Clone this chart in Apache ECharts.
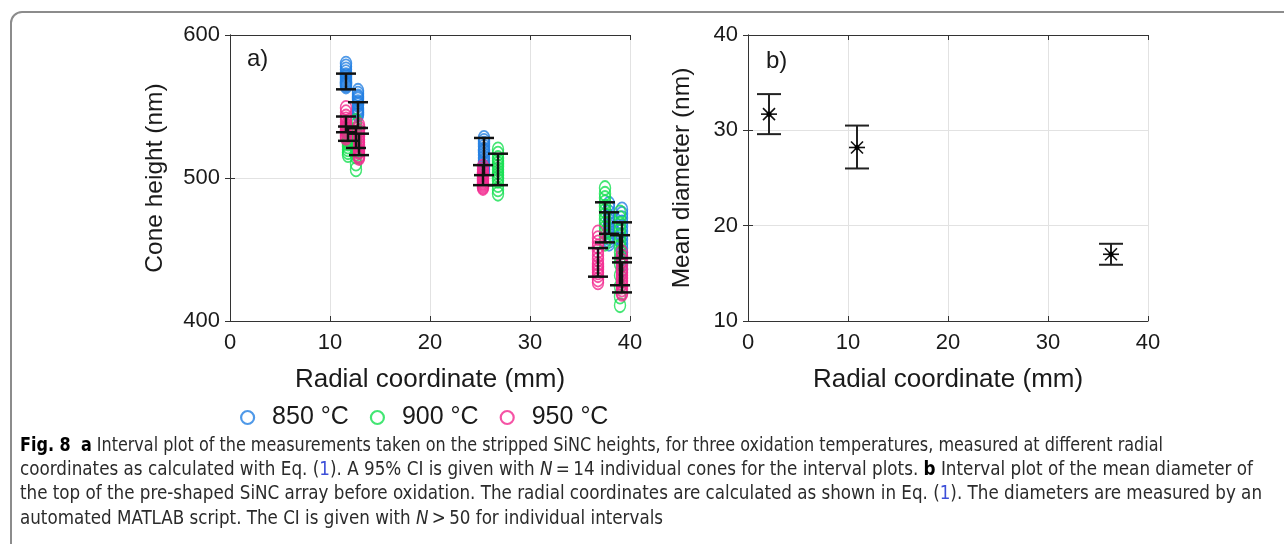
<!DOCTYPE html>
<html>
<head>
<meta charset="utf-8">
<script src="https://cdn.jsdelivr.net/npm/echarts@6/dist/echarts.min.js"></script>
<style>
  html, body { margin: 0; padding: 0; background: #fff; }
  #frame { position: absolute; left: 10px; top: 11px; width: 1300px; height: 600px;
           border: 2px solid #8c8c8c; border-top-left-radius: 12px; box-sizing: border-box; }
  #main { position: absolute; left: 0; top: 0; width: 1284px; height: 544px; }
  .cap { position: absolute; left: 20px; white-space: nowrap; color: #2b2b2b;
         font-family: "Liberation Sans Narrow", "DejaVu Sans Condensed", "Liberation Sans", sans-serif;
         font-size: 20px; line-height: 24px; transform-origin: 0 0; }
  .cap b { color: #000; }
  .cap .ref { color: #3d4fd8; }
</style>
</head>
<body>
<div id="frame"></div>
<div id="main"></div>
<div class="cap" style="top:432px" data-w="1143"><b>Fig. 8</b>&nbsp; <b>a</b> Interval plot of the measurements taken on the stripped SiNC heights, for three oxidation temperatures, measured at different radial</div>
<div class="cap" style="top:456px" data-w="1233">coordinates as calculated with Eq. (<span class="ref">1</span>). A 95% CI is given with <i>N</i>&thinsp;=&thinsp;14 individual cones for the interval plots. <b>b</b> Interval plot of the mean diameter of</div>
<div class="cap" style="top:480px" data-w="1242">the top of the pre-shaped SiNC array before oxidation. The radial coordinates are calculated as shown in Eq. (<span class="ref">1</span>). The diameters are measured by an</div>
<div class="cap" style="top:505px" data-w="643">automated MATLAB script. The CI is given with <i>N</i>&thinsp;&gt;&thinsp;50 for individual intervals</div>
<script>
// a) cone heights, three oxidation temperatures
var tempNames = ['850 °C', '900 °C', '950 °C'];

var x850 = [11.6, 12.8, 25.4, 37.9, 39.2];
var h850 = [
    [580, 578, 576, 574, 572, 571, 570, 569, 568, 567, 566, 565, 564, 566],
    [561, 559, 557, 555, 553, 551, 549, 547, 546, 545, 544, 548, 552, 556],
    [528, 526, 524, 522, 520, 519, 518, 516, 514, 512, 510, 508, 506, 504],
    [482, 479, 476, 473, 470, 468, 466, 464, 462, 460, 458, 456, 454, 472],
    [478, 475, 472, 469, 466, 463, 460, 457, 454, 451, 448, 444, 440, 436]
];
var ci850 = [[562, 573], [535, 553], [502, 528], [461, 476], [444, 469]];

var x900 = [11.8, 12.6, 26.8, 37.5, 39.0];
var h900 = [
    [536, 534, 532, 530, 528, 527, 526, 525, 524, 522, 520, 518, 516, 530],
    [540, 537, 534, 531, 529, 527, 525, 523, 521, 519, 517, 515, 510, 506],
    [520, 517, 514, 512, 510, 508, 506, 504, 502, 500, 498, 495, 492, 489],
    [493, 489, 486, 483, 480, 477, 474, 471, 468, 465, 462, 459, 456, 454],
    [476, 472, 468, 464, 460, 456, 452, 448, 444, 440, 432, 424, 417, 411]
];
var ci900 = [[526, 536], [521, 535], [495, 517], [455, 483], [425, 460]];

var x950 = [11.6, 12.9, 25.3, 36.8, 39.2];
var h950 = [
    [549, 546, 543, 541, 539, 537, 536, 535, 534, 533, 532, 530, 529, 528],
    [537, 535, 533, 531, 529, 527, 525, 523, 521, 519, 518, 516, 515, 514],
    [508, 506, 504, 503, 502, 501, 500, 499, 498, 497, 496, 495, 494, 493],
    [462, 458, 455, 452, 449, 446, 443, 440, 438, 436, 434, 432, 429, 427],
    [448, 445, 442, 439, 436, 434, 432, 430, 428, 426, 424, 422, 420, 419]
];
var ci950 = [[532, 543], [516, 531], [495, 509], [431, 451], [420, 441]];

// b) mean diameter
var xB = [2.1, 10.9, 36.3];
var dMean = [31.7, 28.2, 17.0];
var dLow = [29.6, 26.0, 15.9];
var dHigh = [33.8, 30.5, 18.1];

var colors = ['#2380e2', '#14e050', '#f2288e'];
var font = 'Liberation Sans';
var ink = '#1a1a1a';

window.onload = function () {
    var myChart = echarts.init(document.getElementById('main'));

    function points(xs, hs) {
        var out = [];
        for (var i = 0; i < xs.length; i++) {
            for (var j = 0; j < hs[i].length; j++) out.push([xs[i], hs[i][j]]);
        }
        return out;
    }
    var bars = [];
    [[x850, ci850], [x900, ci900], [x950, ci950]].forEach(function (p) {
        for (var i = 0; i < p[0].length; i++) bars.push([p[0][i], p[1][i][0], p[1][i][1]]);
    });
    var barsB = xB.map(function (x, i) { return [x, dMean[i], dLow[i], dHigh[i]]; });

    function mainX(gi, min, max, interval) {
        return {
            gridIndex: gi, type: 'value', min: min, max: max, interval: interval,
            name: 'Radial coordinate (mm)', nameLocation: 'middle', nameGap: 46,
            nameTextStyle: { fontFamily: font, fontSize: 26, color: ink },
            axisLine: { lineStyle: { color: '#333', width: 1 } },
            axisTick: { inside: true, length: 5, lineStyle: { color: '#333' } },
            axisLabel: { fontFamily: font, fontSize: 22, color: ink, margin: 11 },
            splitLine: { show: true, lineStyle: { color: '#e2e2e2', width: 1 } }
        };
    }
    function mainY(gi, min, max, interval, name, gap) {
        return {
            gridIndex: gi, type: 'value', min: min, max: max, interval: interval,
            name: name, nameLocation: 'middle', nameGap: gap,
            nameTextStyle: { fontFamily: font, fontSize: 24.5, color: ink },
            axisLine: { show: true, lineStyle: { color: '#333', width: 1 } },
            axisTick: { show: true, inside: true, length: 5, lineStyle: { color: '#333' } },
            axisLabel: { fontFamily: font, fontSize: 22, color: ink, margin: 10 },
            splitLine: { show: true, lineStyle: { color: '#e2e2e2', width: 1 } }
        };
    }
    function mirror(kind, gi, min, max, interval) {
        return {
            gridIndex: gi, type: 'value', min: min, max: max, interval: interval,
            position: kind === 'x' ? 'top' : 'right',
            axisLine: { show: true, lineStyle: { color: '#333', width: 1 } },
            axisTick: { show: true, inside: true, length: 5, lineStyle: { color: '#333' } },
            axisLabel: { show: false }, splitLine: { show: false }
        };
    }

    var series = tempNames.map(function (name, k) {
        var xs = [x850, x900, x950][k], hs = [h850, h900, h950][k];
        return {
            name: name, type: 'scatter', xAxisIndex: 0, yAxisIndex: 0,
            symbol: 'circle', symbolSize: [11, 14],
            itemStyle: { color: 'transparent', borderColor: colors[k], borderWidth: 1.6 },
            data: points(xs, hs), z: 3, silent: true
        };
    });

    series.push({
        type: 'custom', xAxisIndex: 0, yAxisIndex: 0, z: 5,
        encode: { x: 0, y: [1, 2] },
        data: bars,
        renderItem: function (params, api) {
            var lo = api.coord([api.value(0), api.value(1)]);
            var hi = api.coord([api.value(0), api.value(2)]);
            var w = 10, st = { stroke: '#111', lineWidth: 2.5 };
            return { type: 'group', children: [
                { type: 'line', shape: { x1: lo[0], y1: lo[1], x2: hi[0], y2: hi[1] }, style: st },
                { type: 'line', shape: { x1: lo[0] - w, y1: lo[1], x2: lo[0] + w, y2: lo[1] }, style: st },
                { type: 'line', shape: { x1: hi[0] - w, y1: hi[1], x2: hi[0] + w, y2: hi[1] }, style: st }
            ] };
        }
    });

    series.push({
        type: 'custom', xAxisIndex: 2, yAxisIndex: 2, z: 5,
        encode: { x: 0, y: [2, 3] },
        data: barsB,
        renderItem: function (params, api) {
            var x = api.value(0);
            var m = api.coord([x, api.value(1)]);
            var lo = api.coord([x, api.value(2)]);
            var hi = api.coord([x, api.value(3)]);
            var w = 12, r = 8, d = 6, st = { stroke: '#222', lineWidth: 2 };
            return { type: 'group', children: [
                { type: 'line', shape: { x1: lo[0], y1: lo[1], x2: hi[0], y2: hi[1] }, style: st },
                { type: 'line', shape: { x1: lo[0] - w, y1: lo[1], x2: lo[0] + w, y2: lo[1] }, style: st },
                { type: 'line', shape: { x1: hi[0] - w, y1: hi[1], x2: hi[0] + w, y2: hi[1] }, style: st },
                { type: 'line', shape: { x1: m[0] - r, y1: m[1], x2: m[0] + r, y2: m[1] }, style: { stroke: '#111', lineWidth: 1.6 } },
                { type: 'line', shape: { x1: m[0] - d, y1: m[1] - d, x2: m[0] + d, y2: m[1] + d }, style: { stroke: '#111', lineWidth: 1.6 } },
                { type: 'line', shape: { x1: m[0] - d, y1: m[1] + d, x2: m[0] + d, y2: m[1] - d }, style: { stroke: '#111', lineWidth: 1.6 } },
                { type: 'circle', shape: { cx: m[0], cy: m[1], r: 2.5 }, style: { fill: '#000' } }
            ] };
        }
    });

    var option = {
        animation: false,
        grid: [
            { left: 230, top: 35, width: 400, height: 286 },
            { left: 748, top: 35, width: 400, height: 286 }
        ],
        xAxis: [
            mainX(0, 0, 40, 10), mirror('x', 0, 0, 40, 10),
            mainX(1, 0, 40, 10), mirror('x', 1, 0, 40, 10)
        ],
        yAxis: [
            mainY(0, 400, 600, 100, 'Cone height (nm)', 62), mirror('y', 0, 400, 600, 100),
            mainY(1, 10, 40, 10, 'Mean diameter (nm)', 53), mirror('y', 1, 10, 40, 10)
        ],
        legend: {
            left: 235, top: 400, itemWidth: 13, itemHeight: 15, itemGap: 21,
            textStyle: { fontFamily: font, fontSize: 25, color: ink, padding: [0, 0, 0, 13] },
            data: tempNames.map(function (n, k) {
                return { name: n, icon: 'circle',
                    itemStyle: { color: 'transparent', borderColor: colors[k], borderWidth: 2.2 } };
            })
        },
        graphic: [
            { type: 'text', left: 247, top: 47, style: { text: 'a)', font: '24px "Liberation Sans"', fill: ink } },
            { type: 'text', left: 766, top: 49, style: { text: 'b)', font: '24px "Liberation Sans"', fill: ink } }
        ],
        series: series
    };

    myChart.setOption(option);

    // fit caption lines to the widths of the printed figure caption
    var caps = document.querySelectorAll('.cap');
    for (var i = 0; i < caps.length; i++) {
        var w = caps[i].getBoundingClientRect().width;
        caps[i].style.transform = 'scaleX(' + (caps[i].getAttribute('data-w') / w) + ')';
    }
};
</script>
</body>
</html>
